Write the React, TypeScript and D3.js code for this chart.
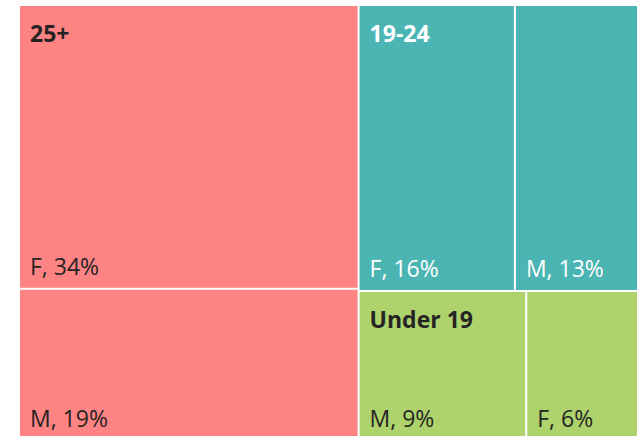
import React from "react";
import * as d3 from "d3";

const groups = ["25+", "19-24", "Under 19"];
const groupColors = ["#FE8383", "#4BB5B4", "#AED36D"];
const groupTextColors = ["#252423", "#FFFFFF", "#252423"];
const leafNames = [["F", "M"], ["F", "M"], ["M", "F"]];
const leafValues = [[34.49, 18.5], [16.0, 12.6], [9.0, 6.0]];

const W = 637;
const H = 436;
const X0 = 20;
const Y0 = 6;
const TW = 617;
const TH = 434;

type Datum = { name: string; value?: number; group?: number; children?: Datum[] };

export default function App() {
  const data: Datum = {
    name: "root",
    children: groups.map((g, gi) => ({
      name: g,
      group: gi,
      children: leafNames[gi].map((n, li) => ({ name: n, value: leafValues[gi][li], group: gi })),
    })),
  };

  const root = d3.hierarchy<Datum>(data).sum((d) => d.value ?? 0);

  const tile = (node: any, x0: number, y0: number, x1: number, y1: number) => {
    if (node.depth === 0) return d3.treemapSquarify(node, x0, y0, x1, y1);
    if (x1 - x0 > (y1 - y0) * 0.8) return d3.treemapDice(node, x0, y0, x1, y1);
    return d3.treemapSlice(node, x0, y0, x1, y1);
  };

  d3.treemap<Datum>().size([TW, TH]).paddingInner(2).tile(tile as any)(root);

  const groupNodes = (root.children ?? []) as d3.HierarchyRectangularNode<Datum>[];
  const leaves = root.leaves() as d3.HierarchyRectangularNode<Datum>[];
  const font = "'Open Sans', 'Noto Sans', sans-serif";
  const fmt = (v: number) => `${Math.round(v)}%`;

  return (
    <svg width={W} height={H} style={{ position: "absolute", left: 0, top: 0, background: "#fff" }}>
      <g transform={`translate(${X0},${Y0})`}>
        {leaves.map((l, i) => {
          const gi = l.data.group ?? 0;
          return (
            <g key={i}>
              <rect x={l.x0} y={l.y0} width={l.x1 - l.x0} height={l.y1 - l.y0} fill={groupColors[gi]} />
              <text x={l.x0 + 10} y={l.y1 - 13} fontFamily={font} fontSize={23} fill={groupTextColors[gi]}>
                {`${l.data.name}, ${fmt(l.data.value ?? 0)}`}
              </text>
            </g>
          );
        })}
        {groupNodes.map((g, i) => {
          const gi = g.data.group ?? 0;
          return (
            <text
              key={i}
              x={g.x0 + 10}
              y={g.y0 + 36}
              fontFamily={font}
              fontSize={23}
              fontWeight="bold"
              fill={groupTextColors[gi]}
            >
              {g.data.name}
            </text>
          );
        })}
      </g>
    </svg>
  );
}
